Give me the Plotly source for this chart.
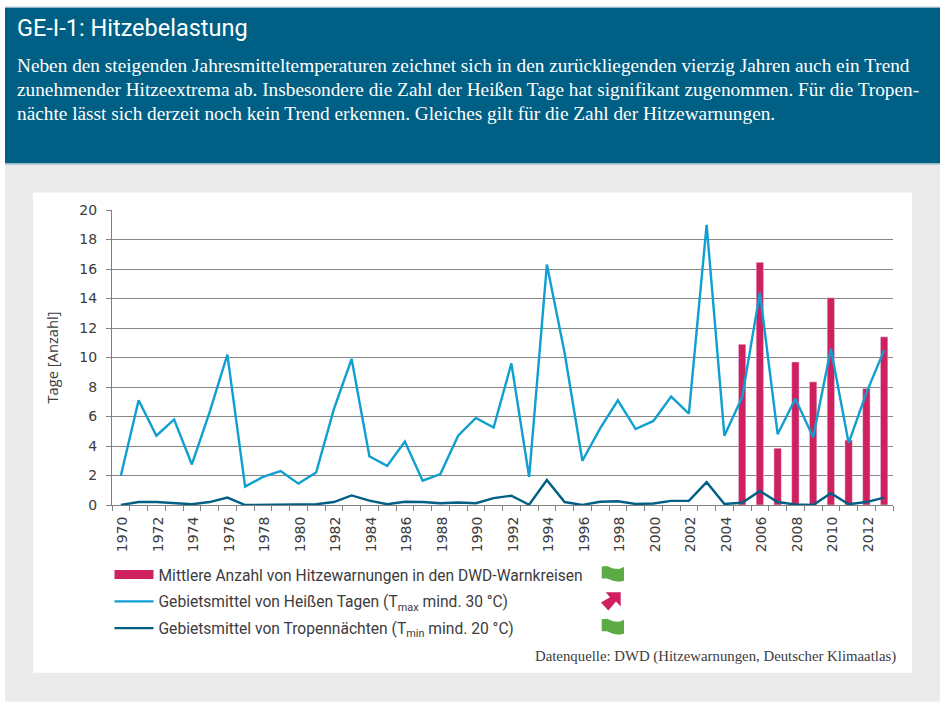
import plotly.graph_objects as go

years = list(range(1970, 2014))
heat_days = [2.0, 7.1, 4.7, 5.8, 2.75, 6.3, 10.2, 1.25, 1.9, 2.3, 1.45, 2.2, 6.5, 9.9, 3.3, 2.65, 4.3, 1.65, 2.1, 4.7,
             5.9, 5.25, 9.6, 1.9, 16.3, 10.3, 3.0, 5.2, 7.1, 5.15, 5.7, 7.35, 6.2, 19.0, 4.7, 7.3, 14.4, 4.8, 7.2, 4.6,
             10.6, 4.2, 7.6, 10.5]
tropical_nights = [0, 0.2, 0.2, 0.1, 0.05, 0.2, 0.5, 0, 0.02, 0.02, 0.01, 0.05, 0.2, 0.65, 0.3, 0.05, 0.22, 0.2, 0.12,
                   0.17, 0.12, 0.47, 0.63, 0.02, 1.7, 0.2, 0, 0.22, 0.25, 0.07, 0.1, 0.28, 0.28, 1.55, 0.07, 0.15,
                   0.95, 0.2, 0.03, 0, 0.8, 0.05, 0.2, 0.5]
warning_years = [2005, 2006, 2007, 2008, 2009, 2010, 2011, 2012, 2013]
warnings = [10.9, 16.45, 3.85, 9.7, 8.35, 14.05, 4.4, 7.9, 11.4]
x_tick_years = list(range(1970, 2013, 2))
y_ticks = list(range(0, 21, 2))

W, H = 945, 709
L, R, T, B = 112, 893, 209.5, 505
CRIMSON, LIGHT, DARK = "#cf2060", "#0f9fd0", "#005f85"
GREEN = "#5dab45"
TEXT = "#3c3c3c"
SANS = "Roboto, 'Open Sans', sans-serif"
SERIF = "'Liberation Serif', serif"
TICK = "'DejaVu Sans', sans-serif"
px = lambda v: (v - L) / (R - L)
py = lambda v: (B - v) / (B - T)

def rect(x0, y0, x1, y1, color):
    return dict(type="rect", xref="paper", yref="paper", x0=px(x0), x1=px(x1), y0=py(y1), y1=py(y0),
                fillcolor=color, line_width=0, layer="below")

def poly(points, color):
    d = "M" + " L".join(f"{px(a):.5f},{py(b):.5f}" for a, b in points) + " Z"
    return dict(type="path", xref="paper", yref="paper", path=d, fillcolor=color, line_width=0)

def flag(top):
    edge = [(601.7, 0.5), (607, 0), (613, 2.5), (619, 3), (624, 1), (624, 15), (619, 16), (613, 15), (607, 12.5), (601.7, 12.5)]
    return poly([(a, top + b) for a, b in edge], GREEN)

arrow = [(620.7, 592.3), (605.7, 592.3), (610, 597.3), (601, 602.7), (608.3, 610.7), (616, 601.7), (620.7, 606.7)]

fig = go.Figure()
fig.add_trace(go.Bar(x=warning_years, y=warnings, width=0.42, marker_color=CRIMSON, showlegend=False,
                     legendgroup="a", name="Mittlere Anzahl von Hitzewarnungen in den DWD-Warnkreisen"))
fig.add_trace(go.Scatter(x=[None], y=[None], mode="lines", line=dict(color=CRIMSON, width=9), legendgroup="a",
                         name="Mittlere Anzahl von Hitzewarnungen in den DWD-Warnkreisen"))
fig.add_trace(go.Scatter(x=years, y=heat_days, mode="lines", line=dict(color=LIGHT, width=2.4), legendgroup="b",
                         name="Gebietsmittel von Heißen Tagen (T<sub>max</sub> mind. 30 °C)"))
fig.add_trace(go.Scatter(x=years, y=tropical_nights, mode="lines", line=dict(color=DARK, width=2.4), legendgroup="c",
                         name="Gebietsmittel von Tropennächten (T<sub>min</sub> mind. 20 °C)"))

body = ["Neben den steigenden Jahresmitteltemperaturen zeichnet sich in den zurückliegenden vierzig Jahren auch ein Trend",
        "zunehmender Hitzeextrema ab. Insbesondere die Zahl der Heißen Tage hat signifikant zugenommen. Für die Tropen-",
        "nächte lässt sich derzeit noch kein Trend erkennen. Gleiches gilt für die Zahl der Hitzewarnungen."]
anns = [dict(xref="paper", yref="paper", x=px(15), y=py(65 + 24 * i), text=t, showarrow=False, xanchor="left",
             yanchor="middle", font=dict(family=SERIF, size=19.3, color="white")) for i, t in enumerate(body)]
anns.append(dict(xref="paper", yref="paper", x=px(898), y=py(657), text="Datenquelle: DWD (Hitzewarnungen, Deutscher Klimaatlas)",
                 showarrow=False, xanchor="right", yanchor="middle", font=dict(family=SERIF, size=14.8, color=TEXT)))

shapes = [rect(5, 7, 940, 163, DARK), rect(5, 163, 940, 702, "#ebebeb"), rect(5, 6, 940, 7, "#7fa9bd"),
          rect(5, 163, 940, 164, "#7fa9bd"), rect(33, 192, 912, 673, "white"),
          flag(566), poly(arrow, CRIMSON), flag(619)]

fig.update_layout(
    width=W, height=H, autosize=False, paper_bgcolor="white", plot_bgcolor="rgba(0,0,0,0)",
    margin=dict(l=L, r=W - R, t=T, b=H - B), barmode="overlay", shapes=shapes, annotations=anns,
    title=dict(text="GE-I-1: Hitzebelastung", x=17 / W, xanchor="left", xref="container", y=1 - 28 / H, yanchor="middle",
               yref="container", font=dict(family=SANS, size=23.5, color="white")),
    legend=dict(x=px(109.5), y=py(558), xanchor="left", yanchor="top", bgcolor="rgba(0,0,0,0)", itemwidth=39,
                traceorder="grouped", tracegroupgap=3.5, font=dict(family=SANS, size=15.6, color=TEXT), itemclick=False),
    xaxis=dict(range=[1969.5, 2013.5], tickmode="array", tickvals=x_tick_years, ticktext=[str(y) for y in x_tick_years],
               tickangle=-90, ticks="outside", ticklen=5, tickcolor="rgba(0,0,0,0)", showgrid=False, zeroline=False,
               ticklabelshift=2, showline=True, linecolor="#808080", linewidth=1, tickfont=dict(family=TICK, size=14, color=TEXT),
               minor=dict(ticks="outside", ticklen=5, tickcolor="#808080", dtick=1, tick0=1969.5, showgrid=False)),
    yaxis=dict(range=[0, 20], tickvals=y_ticks, gridcolor="#858585", gridwidth=1, zeroline=False, showline=True,
               linecolor="#808080", ticks="outside", ticklen=5, tickcolor="#808080", ticklabelstandoff=6,
               tickfont=dict(family=TICK, size=14, color=TEXT),
               title=dict(text="Tage [Anzahl]", standoff=17, font=dict(family="'Open Sans', sans-serif", size=14.7, color=TEXT))),
)
fig.write_html("out.html", post_script="document.body.style.margin='0';", config=dict(displayModeBar=False))
